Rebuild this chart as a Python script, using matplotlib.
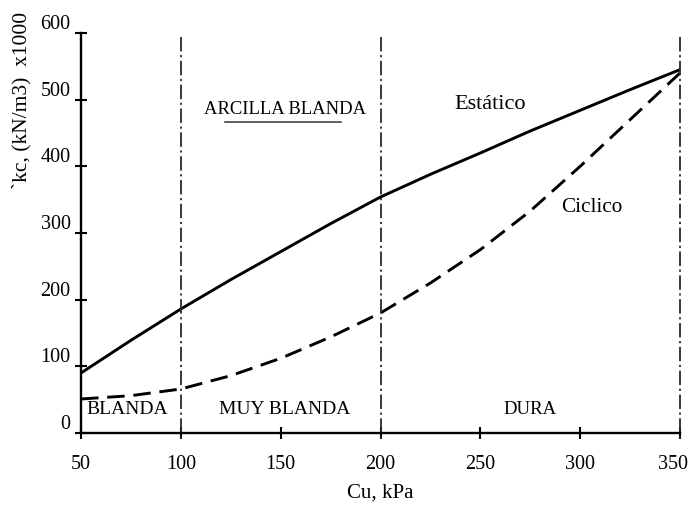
"""kc vs Cu: static and cyclic curves"""

import matplotlib
matplotlib.use("Agg")
import matplotlib.pyplot as plt
from matplotlib.transforms import ScaledTranslation

cu = [50, 75, 100, 125, 150, 175, 200, 225, 250, 275, 300, 325, 350]
estatico = [90, 139, 186, 230, 272, 314, 354, 388, 420, 453, 484, 515, 545]
ciclico = [51, 56, 66, 86, 112, 144, 180, 225, 275, 333, 400, 470, 540]

limites = [100, 200, 350]
xticks = [50, 100, 150, 200, 250, 300, 350]
yticks = [0, 100, 200, 300, 400, 500, 600]

plt.rcParams['font.family'] = ['Liberation Serif', 'DejaVu Serif']

fig = plt.figure(figsize=(6.92, 5.13), dpi=100)
ax = fig.add_axes([81 / 692, 80 / 513, 599 / 692, 400 / 513])

ax.plot(cu, estatico, color='black', lw=2.1)
ax.plot(cu, ciclico, color='black', lw=2.1, dashes=(6, 3))

for x in limites:
    ax.plot([x, x], [594, -12], color='#2a2a2a', lw=1.3,
            linestyle=(0, (8, 2, 1.2, 2)), clip_on=False)

ax.set_xlim(50, 350)
ax.set_ylim(0, 600)
ax.set_xticks(xticks)
ax.set_yticks(yticks)
ax.tick_params(direction='inout', length=9, width=1.5, labelsize=14.5, colors='black')
ax.tick_params(axis='x', pad=11)
ax.tick_params(axis='y', pad=3)
for lab in ax.get_yticklabels():
    lab.set_transform(lab.get_transform() + ScaledTranslation(0, 8 / 72, fig.dpi_scale_trans))
last = ax.get_xticklabels()[-1]
last.set_transform(last.get_transform() + ScaledTranslation(-5 / 72, 0, fig.dpi_scale_trans))

for s in ['top', 'right']:
    ax.spines[s].set_visible(False)
for s in ['left', 'bottom']:
    ax.spines[s].set_linewidth(1.7)

ax.set_xlabel('Cu, kPa', fontsize=15, labelpad=7)
fig.text(22 / 692, 1 - 12 / 513, '`kc, (kN/m3)  x1000', rotation=90,
         ha='center', va='top', fontsize=15.5)

ax.text(152, 485, 'ARCILLA BLANDA', ha='center', va='center', fontsize=13.4)
ax.plot([122, 180], [466, 466], color='#333333', lw=1.1)
ax.text(255, 492, 'Estático', ha='center', va='center', fontsize=16)
ax.text(306, 339, 'Ciclico', ha='center', va='center', fontsize=15.3)
ax.text(73, 35, 'BLANDA', ha='center', va='center', fontsize=14)
ax.text(152, 35, 'MUY BLANDA', ha='center', va='center', fontsize=14)
ax.text(275, 35, 'DURA', ha='center', va='center', fontsize=13.5)

fig.savefig('out.png', dpi=100)
